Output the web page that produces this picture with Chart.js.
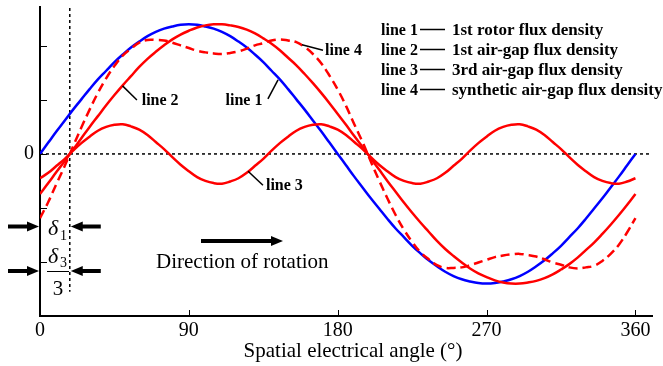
<!DOCTYPE html>
<html>
<head>
<meta charset="utf-8">
<script src="https://cdn.jsdelivr.net/npm/chart.js@4.4.0/dist/chart.umd.min.js"></script>
<style>
body { margin: 0; background: #fff; }
</style>
</head>
<body>
<canvas id="grafico" width="663" height="366"></canvas>
<script>
/* INÍCIO DADOS */

var angles = [0,5,10,15,20,25,30,35,40,45,50,55,60,65,70,75,80,85,90,95,100,105,110,115,120,125,130,135,140,145,150,155,160,165,170,175,180,
    185,190,195,200,205,210,215,220,225,230,235,240,245,250,255,260,265,270,275,280,285,290,295,300,305,310,315,320,325,330,335,340,345,350,355,360];

// line 1 - 1st rotor flux density
var line1 = [0,0.21,0.42,0.62,0.82,1.01,1.20,1.38,1.54,1.70,1.84,1.97,2.08,2.18,2.26,2.32,2.36,2.39,2.40,2.39,2.36,2.32,2.26,2.18,2.08,1.97,1.84,1.70,1.54,1.38,1.20,1.01,0.82,0.62,0.42,0.21,0,
    -0.21,-0.42,-0.62,-0.82,-1.01,-1.20,-1.38,-1.54,-1.70,-1.84,-1.97,-2.08,-2.18,-2.26,-2.32,-2.36,-2.39,-2.40,-2.39,-2.36,-2.32,-2.26,-2.18,-2.08,-1.97,-1.84,-1.70,-1.54,-1.38,-1.20,-1.01,-0.82,-0.62,-0.42,-0.21,0];

// line 2 - 1st air-gap flux density
var line2 = [-0.74,-0.54,-0.33,-0.13,0.08,0.29,0.50,0.70,0.90,1.09,1.27,1.44,1.61,1.76,1.89,2.01,2.12,2.21,2.28,2.34,2.38,2.40,2.40,2.38,2.35,2.30,2.23,2.14,2.04,1.92,1.78,1.64,1.48,1.31,1.13,0.94,0.74,
    0.54,0.33,0.13,-0.08,-0.29,-0.50,-0.70,-0.90,-1.09,-1.27,-1.44,-1.61,-1.76,-1.89,-2.01,-2.12,-2.21,-2.28,-2.34,-2.38,-2.40,-2.40,-2.38,-2.35,-2.30,-2.23,-2.14,-2.04,-1.92,-1.78,-1.64,-1.48,-1.31,-1.13,-0.94,-0.74];

// line 3 - 3rd air-gap flux density
var line3 = [-0.45,-0.35,-0.22,-0.09,0.06,0.20,0.32,0.43,0.50,0.54,0.55,0.51,0.45,0.35,0.22,0.09,-0.06,-0.20,-0.32,-0.43,-0.50,-0.54,-0.55,-0.51,
    -0.45,-0.35,-0.22,-0.09,0.06,0.20,0.32,0.43,0.50,0.54,0.55,0.51,0.45,0.35,0.22,0.09,-0.06,-0.20,-0.32,-0.43,-0.50,-0.54,-0.55,-0.51,
    -0.45,-0.35,-0.22,-0.09,0.06,0.20,0.32,0.43,0.50,0.54,0.55,0.51,0.45,0.35,0.22,0.09,-0.06,-0.20,-0.32,-0.43,-0.50,-0.54,-0.55,-0.51,-0.45];

// line 4 - synthetic air-gap flux density
var line4 = [-1.19,-0.89,-0.55,-0.22,0.14,0.49,0.82,1.13,1.40,1.63,1.82,1.95,2.06,2.11,2.11,2.10,2.06,2.01,1.96,1.91,1.88,1.86,1.85,1.87,1.90,1.95,2.01,2.05,2.10,2.12,2.10,2.07,1.98,1.85,1.68,1.45,1.19,
    0.89,0.55,0.22,-0.14,-0.49,-0.82,-1.13,-1.40,-1.63,-1.82,-1.95,-2.06,-2.11,-2.11,-2.10,-2.06,-2.01,-1.96,-1.91,-1.88,-1.86,-1.85,-1.87,-1.90,-1.95,-2.01,-2.05,-2.10,-2.12,-2.10,-2.07,-1.98,-1.85,-1.68,-1.45,-1.19];

var xTicks = [0, 90, 180, 270, 360];
var yTicks = [-2, -1, 0, 1, 2];
var delta1 = 18;

var legendNames = ["line 1", "line 2", "line 3", "line 4"];
var legendTexts = ["1st rotor flux density", "1st air-gap flux density", "3rd air-gap flux density", "synthetic air-gap flux density"];

// rótulos sobre as curvas: texto, posição do texto e ponta do traço (em graus / valor)
var callouts = [
    { text: "line 2", x: 61.5, y: 0.90, from: [49.9, 1.26], to: [58.6, 1.00] },
    { text: "line 1", x: 112.2, y: 0.91, from: [137.8, 1.02], to: [143.9, 1.37] },
    { text: "line 4", x: 172.3, y: 1.83, from: [158.4, 2.02], to: [171.1, 1.92] },
    { text: "line 3", x: 136.6, y: -0.67, from: [125.8, -0.32], to: [134.8, -0.58] }
];

/* FINAL DADOS */

function toPoints(values) {
    return angles.map(function (a, i) { return { x: a, y: values[i] }; });
}

var serif = '"Liberation Serif", "Times New Roman", serif';

function arrow(ctx, x1, x2, y) {
    // seta grossa de x1 até a ponta em x2
    var dir = x2 > x1 ? 1 : -1;
    ctx.beginPath();
    ctx.lineWidth = 4;
    ctx.moveTo(x1, y);
    ctx.lineTo(x2 - dir * 9, y);
    ctx.stroke();
    ctx.beginPath();
    ctx.moveTo(x2, y);
    ctx.lineTo(x2 - dir * 12, y - 5);
    ctx.lineTo(x2 - dir * 12, y + 5);
    ctx.closePath();
    ctx.fill();
}

/* ÍNICIO PLUGIN DE ANOTAÇÕES */
var extras = {
    id: "extras",
    beforeDatasetsDraw: function (chart) {
        var ctx = chart.ctx, xs = chart.scales.x, ys = chart.scales.y, area = chart.chartArea;
        ctx.save();
        ctx.strokeStyle = "#000";
        ctx.lineWidth = 1.5;
        ctx.setLineDash([3, 3]);
        ctx.beginPath();
        ctx.moveTo(area.left, ys.getPixelForValue(0));
        ctx.lineTo(area.right, ys.getPixelForValue(0));
        ctx.stroke();
        ctx.beginPath();
        ctx.moveTo(xs.getPixelForValue(delta1), area.top + 1);
        ctx.lineTo(xs.getPixelForValue(delta1), ys.getPixelForValue(-2.55));
        ctx.stroke();
        ctx.restore();
    },
    afterDraw: function (chart) {
        var ctx = chart.ctx, xs = chart.scales.x, ys = chart.scales.y, area = chart.chartArea;
        ctx.save();
        ctx.strokeStyle = "#000";
        ctx.fillStyle = "#000";

        // marcas dos eixos para dentro
        ctx.lineWidth = 1;
        xTicks.forEach(function (v) {
            var px = Math.round(xs.getPixelForValue(v)) + 0.5;
            ctx.beginPath();
            ctx.moveTo(px, area.bottom);
            ctx.lineTo(px, area.bottom - 6);
            ctx.stroke();
        });
        yTicks.forEach(function (v) {
            var py = Math.round(ys.getPixelForValue(v)) + 0.5;
            ctx.beginPath();
            ctx.moveTo(area.left, py);
            ctx.lineTo(area.left + 7, py);
            ctx.stroke();
        });

        // rótulos das curvas
        ctx.font = "bold 16px " + serif;
        ctx.textBaseline = "alphabetic";
        ctx.textAlign = "left";
        ctx.lineWidth = 1.5;
        callouts.forEach(function (c) {
            ctx.fillText(c.text, xs.getPixelForValue(c.x), ys.getPixelForValue(c.y));
            ctx.beginPath();
            ctx.moveTo(xs.getPixelForValue(c.from[0]), ys.getPixelForValue(c.from[1]));
            ctx.lineTo(xs.getPixelForValue(c.to[0]), ys.getPixelForValue(c.to[1]));
            ctx.stroke();
        });

        // legenda
        legendNames.forEach(function (name, i) {
            var base = 35 + i * 20;
            ctx.font = "bold 16px " + serif;
            ctx.fillText(name, 381, base);
            ctx.beginPath();
            ctx.moveTo(420, base - 5.5);
            ctx.lineTo(445, base - 5.5);
            ctx.stroke();
            ctx.font = "bold 17px " + serif;
            ctx.fillText(legendTexts[i], 452, base);
        });

        // delta 1 e delta 3 / 3
        var x0 = xs.getPixelForValue(0), xd = xs.getPixelForValue(delta1);
        arrow(ctx, 8, x0 - 1, 226.5);
        arrow(ctx, xd + 31, xd + 1, 226.5);
        arrow(ctx, 8, x0 - 1, 271);
        arrow(ctx, xd + 31, xd + 1, 271);

        ctx.font = "italic 22px " + serif;
        ctx.fillText("\u03b4", 48, 235);
        ctx.fillText("\u03b4", 48, 263);
        ctx.font = "14px " + serif;
        ctx.fillText("1", 60, 240);
        ctx.fillText("3", 60, 267);
        ctx.lineWidth = 1;
        ctx.beginPath();
        ctx.moveTo(47, 271.5);
        ctx.lineTo(69, 271.5);
        ctx.stroke();
        ctx.font = "21px " + serif;
        ctx.textAlign = "center";
        ctx.fillText("3", 58, 295);

        // título do eixo x
        ctx.fillText("Spatial electrical angle (\u00b0)", 353, 357);

        // sentido de rotação
        arrow(ctx, 201, 283, 241);
        ctx.textAlign = "left";
        ctx.fillText("Direction of rotation", 156, 268);

        ctx.restore();
    }
};
/* FINAL PLUGIN DE ANOTAÇÕES */

/* ÍNICIO GRÁFICO */
var ctx = document.getElementById("grafico");

var chartGraph = new Chart(ctx, {
    type: "line",
    data: {
        datasets: [
            { label: "line 1", data: toPoints(line1), borderColor: "#0000ff", borderWidth: 2.5, order: 4 },
            { label: "line 2", data: toPoints(line2), borderColor: "#ff0000", borderWidth: 2.5, order: 3 },
            { label: "line 3", data: toPoints(line3), borderColor: "#ff0000", borderWidth: 2.5, order: 2 },
            { label: "line 4", data: toPoints(line4), borderColor: "#ff0000", borderWidth: 2.5, borderDash: [9, 5], order: 1 }
        ]
    },
    options: {
        responsive: false,
        animation: false,
        elements: {
            point: { radius: 0 },
            line: { tension: 0.4, fill: false }
        },
        layout: { padding: { top: 7, right: 11, left: 0, bottom: 0 } },
        plugins: {
            legend: { display: false },
            tooltip: { enabled: false }
        },
        scales: {
            x: {
                type: "linear",
                min: 0,
                max: 370,
                afterBuildTicks: function (s) { s.ticks = xTicks.map(function (v) { return { value: v }; }); },
                afterFit: function (s) { s.height = 50; },
                grid: { display: false, drawTicks: false },
                border: { color: "#000", width: 2 },
                ticks: { color: "#000", padding: 3, maxRotation: 0, autoSkip: false, font: { family: serif, size: 20 } }
            },
            y: {
                min: -3,
                max: 2.72,
                afterBuildTicks: function (s) { s.ticks = yTicks.map(function (v) { return { value: v }; }); },
                afterFit: function (s) { s.width = 40; },
                grid: { display: false, drawTicks: false },
                border: { color: "#000", width: 2 },
                ticks: {
                    color: "#000",
                    padding: 6,
                    font: { family: serif, size: 20, lineHeight: 0.05 },
                    callback: function (v) { return v === 0 ? "0" : ""; }
                }
            }
        }
    },
    plugins: [extras]
});
/* FINAL GRÁFICO */
</script>
</body>
</html>
